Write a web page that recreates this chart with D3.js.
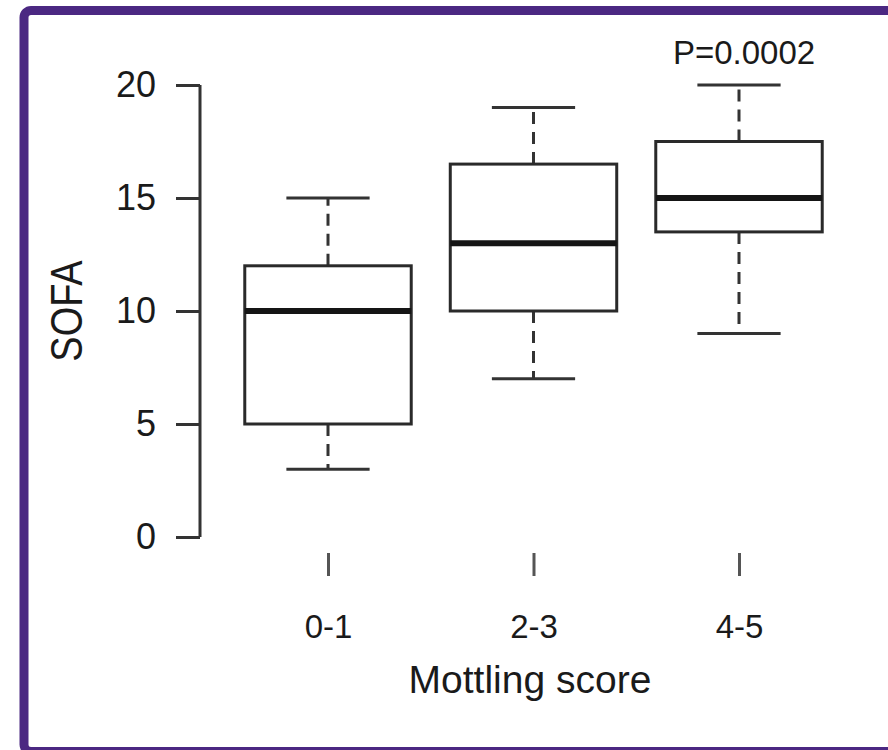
<!DOCTYPE html>
<html>
<head>
<meta charset="utf-8">
<script src="https://cdn.jsdelivr.net/npm/d3@7"></script>
<style>
  html, body { margin: 0; padding: 0; background: #fff; }
  svg { display: block; }
  text { font-family: "Liberation Sans", Arial, Helvetica, sans-serif; fill: #1a1a1a; }
</style>
</head>
<body>
<svg id="chart" width="888" height="750"></svg>
<script>
// ---- Data ----
const categories = ["0-1", "2-3", "4-5"];
const whiskerLow = [3, 7, 9];
const q1 = [5, 10, 13.5];
const median = [10, 13, 15];
const q3 = [12, 16.5, 17.5];
const whiskerHigh = [15, 19, 20];
const yTicks = [0, 5, 10, 15, 20];
const xTitle = "Mottling score";
const yTitle = "SOFA";
const pLabel = "P=0.0002";

const data = categories.map((c, i) => ({
  cat: c, lo: whiskerLow[i], q1: q1[i], med: median[i], q3: q3[i], hi: whiskerHigh[i]
}));

const svg = d3.select("#chart");

// frame border
svg.append("rect")
  .attr("x", 24).attr("y", 10.5)
  .attr("width", 900).attr("height", 741)
  .attr("rx", 7)
  .attr("fill", "none")
  .attr("stroke", "#4b2882")
  .attr("stroke-width", 9);

// scales
const y = d3.scaleLinear().domain([0, 20]).range([537, 85]);
const x = d3.scalePoint().domain(categories).range([328, 739]);
const boxW = x.step() * 0.81;
const capW = boxW / 2;

// y axis
const yAxis = d3.axisLeft(y).tickValues(yTicks).tickSize(24).tickPadding(20);
const gy = svg.append("g").attr("transform", "translate(200,0)").call(yAxis);
gy.select(".domain").attr("stroke", "#333").attr("stroke-width", 3).attr("d", `M0,${y(0)}V${y(20)}`);
gy.selectAll(".tick line").attr("stroke", "#333").attr("stroke-width", 3);
gy.selectAll(".tick text")
  .attr("font-size", 36)
  .attr("font-family", "Liberation Sans, Arial, sans-serif")
  .attr("fill", "#222");

// x axis: ticks only, no line
const xAxis = d3.axisBottom(x).tickSize(23).tickPadding(39);
const gx = svg.append("g").attr("transform", "translate(0,553)").call(xAxis);
gx.select(".domain").remove();
gx.selectAll(".tick line").attr("stroke", "#555").attr("stroke-width", 3);
gx.selectAll(".tick text")
  .attr("font-size", 33)
  .attr("font-family", "Liberation Sans, Arial, sans-serif")
  .attr("fill", "#222");

// boxes
const g = svg.append("g");
const b = g.selectAll("g.box").data(data).join("g").attr("class", "box");

// whiskers (dashed)
b.append("line")
  .attr("x1", d => x(d.cat)).attr("x2", d => x(d.cat))
  .attr("y1", d => y(d.q3)).attr("y2", d => y(d.hi))
  .attr("stroke", "#333").attr("stroke-width", 3).attr("stroke-dasharray", "12,8");
b.append("line")
  .attr("x1", d => x(d.cat)).attr("x2", d => x(d.cat))
  .attr("y1", d => y(d.q1)).attr("y2", d => y(d.lo))
  .attr("stroke", "#333").attr("stroke-width", 3).attr("stroke-dasharray", "12,8");
// caps
b.append("line")
  .attr("x1", d => x(d.cat) - capW / 2).attr("x2", d => x(d.cat) + capW / 2)
  .attr("y1", d => y(d.hi)).attr("y2", d => y(d.hi))
  .attr("stroke", "#333").attr("stroke-width", 3);
b.append("line")
  .attr("x1", d => x(d.cat) - capW / 2).attr("x2", d => x(d.cat) + capW / 2)
  .attr("y1", d => y(d.lo)).attr("y2", d => y(d.lo))
  .attr("stroke", "#333").attr("stroke-width", 3);
// box
b.append("rect")
  .attr("x", d => x(d.cat) - boxW / 2)
  .attr("width", boxW)
  .attr("y", d => y(d.q3))
  .attr("height", d => y(d.q1) - y(d.q3))
  .attr("fill", "#fff")
  .attr("stroke", "#2a2a2a").attr("stroke-width", 3);
// median
b.append("line")
  .attr("x1", d => x(d.cat) - boxW / 2).attr("x2", d => x(d.cat) + boxW / 2)
  .attr("y1", d => y(d.med)).attr("y2", d => y(d.med))
  .attr("stroke", "#151515").attr("stroke-width", 6);

// p-value label
svg.append("text")
  .attr("x", x(categories[2]) + 5).attr("y", 64)
  .attr("text-anchor", "middle")
  .attr("font-size", 33)
  .attr("fill", "#111")
  .text(pLabel);

// axis titles
svg.append("text")
  .attr("x", 530).attr("y", 693)
  .attr("text-anchor", "middle")
  .attr("font-size", 39)
  .attr("fill", "#222")
  .text(xTitle);

svg.append("text")
  .attr("transform", `translate(82,${(y(0) + y(20)) / 2}) rotate(-90) scale(1,1.15)`)
  .attr("text-anchor", "middle")
  .attr("font-size", 38)
  .attr("fill", "#222")
  .text(yTitle);
</script>
</body>
</html>
